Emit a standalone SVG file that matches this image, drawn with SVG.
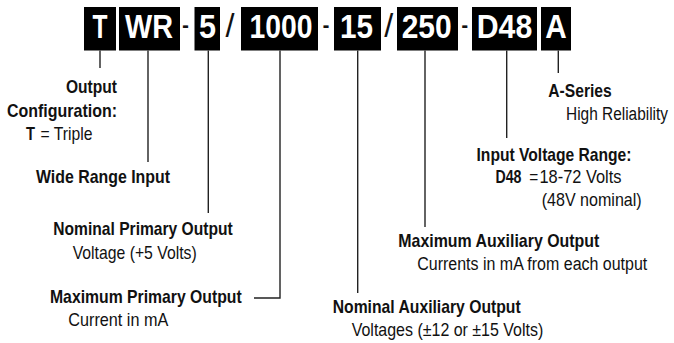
<svg xmlns="http://www.w3.org/2000/svg" width="674" height="343" viewBox="0 0 674 343">
<style>
.box{fill:#000}
.code{font-family:"Liberation Sans",Arial,sans-serif;font-weight:bold;font-size:33px;fill:#fff;text-anchor:middle}
.sep{font-family:"Liberation Sans",Arial,sans-serif;font-size:34px;fill:#111;text-anchor:middle}
.b{font-family:"Liberation Sans",Arial,sans-serif;font-weight:bold;font-size:19px;fill:#111}
.r{font-family:"Liberation Sans",Arial,sans-serif;font-size:19px;fill:#111}
.ln{fill:none;stroke:#222;stroke-width:1.4}
</style>
<rect width="674" height="343" fill="#fff"/>
<g id="code">
<g id="box-T"><rect class="box" x="84" y="7" width="32" height="43.5"/><text class="code" x="100" y="37.5" textLength="15" lengthAdjust="spacingAndGlyphs">T</text></g>
<g id="box-WR"><rect class="box" x="119" y="7" width="61" height="43.5"/><text class="code" x="149" y="37.5" textLength="48" lengthAdjust="spacingAndGlyphs">WR</text></g>
<text class="sep" x="185.5" y="36" textLength="7" lengthAdjust="spacingAndGlyphs">-</text>
<g id="box-5"><rect class="box" x="194.5" y="7" width="25.5" height="43.5"/><text class="code" x="207.5" y="37.5" textLength="17" lengthAdjust="spacingAndGlyphs">5</text></g>
<text class="sep" x="230" y="37" textLength="9" lengthAdjust="spacingAndGlyphs">/</text>
<g id="box-1000"><rect class="box" x="241" y="7" width="77" height="43.5"/><text class="code" x="281" y="37.5" textLength="63" lengthAdjust="spacingAndGlyphs">1000</text></g>
<text class="sep" x="326" y="36" textLength="7" lengthAdjust="spacingAndGlyphs">-</text>
<g id="box-15"><rect class="box" x="334" y="7" width="47" height="43.5"/><text class="code" x="356.5" y="37.5" textLength="33" lengthAdjust="spacingAndGlyphs">15</text></g>
<text class="sep" x="388.7" y="37" textLength="9" lengthAdjust="spacingAndGlyphs">/</text>
<g id="box-250"><rect class="box" x="397" y="7" width="61" height="43.5"/><text class="code" x="426.7" y="37.5" textLength="50" lengthAdjust="spacingAndGlyphs">250</text></g>
<text class="sep" x="464.7" y="36" textLength="7" lengthAdjust="spacingAndGlyphs">-</text>
<g id="box-D48"><rect class="box" x="472" y="7" width="65" height="43.5"/><text class="code" x="504.5" y="37.5" textLength="55.5" lengthAdjust="spacingAndGlyphs">D48</text></g>
<g id="box-A"><rect class="box" x="541" y="7" width="30" height="43.5"/><text class="code" x="556" y="37.5" textLength="21.5" lengthAdjust="spacingAndGlyphs">A</text></g>
</g>
<g id="connectors">
<path class="ln" d="M100 50.5V68"/>
<path class="ln" d="M148 50.5V162"/>
<path class="ln" d="M208.3 50.5V213"/>
<path class="ln" d="M280 50.5V298H254"/>
<path class="ln" d="M357.7 50.5V293"/>
<path class="ln" d="M425 50.5V227"/>
<path class="ln" d="M506.7 50.5V138"/>
<path class="ln" d="M558.3 50.5V73"/>
</g>
<g id="label-output-config">
<text class="b" x="117" y="93.3" text-anchor="end" textLength="51" lengthAdjust="spacingAndGlyphs">Output</text>
<text class="b" x="117" y="116.7" text-anchor="end" textLength="110" lengthAdjust="spacingAndGlyphs">Configuration:</text>
<text class="b" x="26" y="140" textLength="9" lengthAdjust="spacingAndGlyphs">T</text>
<text class="r" x="40.5" y="140" textLength="52" lengthAdjust="spacingAndGlyphs">= Triple</text>
</g>
<g id="label-wide-range">
<text class="b" x="36" y="183.3" textLength="134" lengthAdjust="spacingAndGlyphs">Wide Range Input</text>
</g>
<g id="label-nominal-primary">
<text class="b" x="53.3" y="235" textLength="179.4" lengthAdjust="spacingAndGlyphs">Nominal Primary Output</text>
<text class="r" x="72.7" y="259.3" textLength="124" lengthAdjust="spacingAndGlyphs">Voltage (+5 Volts)</text>
</g>
<g id="label-max-primary">
<text class="b" x="50" y="303.3" textLength="191.7" lengthAdjust="spacingAndGlyphs">Maximum Primary Output</text>
<text class="r" x="68.3" y="326" textLength="100" lengthAdjust="spacingAndGlyphs">Current in mA</text>
</g>
<g id="label-nominal-aux">
<text class="b" x="332.7" y="312.7" textLength="188" lengthAdjust="spacingAndGlyphs">Nominal Auxiliary Output</text>
<text class="r" x="351.7" y="336" textLength="191.6" lengthAdjust="spacingAndGlyphs">Voltages (±12 or ±15 Volts)</text>
</g>
<g id="label-max-aux">
<text class="b" x="398.3" y="246.7" textLength="201" lengthAdjust="spacingAndGlyphs">Maximum Auxiliary Output</text>
<text class="r" transform="translate(417.3 270) scale(0.841 1)" x="0" y="0">Currents in mA from each output</text>
</g>
<g id="label-input-voltage">
<text class="b" x="476.5" y="161" textLength="155" lengthAdjust="spacingAndGlyphs">Input Voltage Range:</text>
<text class="b" x="495.5" y="183" textLength="26" lengthAdjust="spacingAndGlyphs">D48</text>
<text class="r" x="529.3" y="183" textLength="9" lengthAdjust="spacingAndGlyphs">=</text>
<text class="r" x="539.5" y="183" textLength="82" lengthAdjust="spacingAndGlyphs">18-72 Volts</text>
<text class="r" x="541.7" y="205.5" textLength="100" lengthAdjust="spacingAndGlyphs">(48V  nominal)</text>
</g>
<g id="label-a-series">
<text class="b" x="548.3" y="96.7" textLength="63.4" lengthAdjust="spacingAndGlyphs">A-Series</text>
<text class="r" transform="translate(566 120) scale(0.812 1)" x="0" y="0">High Reliability</text>
</g>
</svg>
